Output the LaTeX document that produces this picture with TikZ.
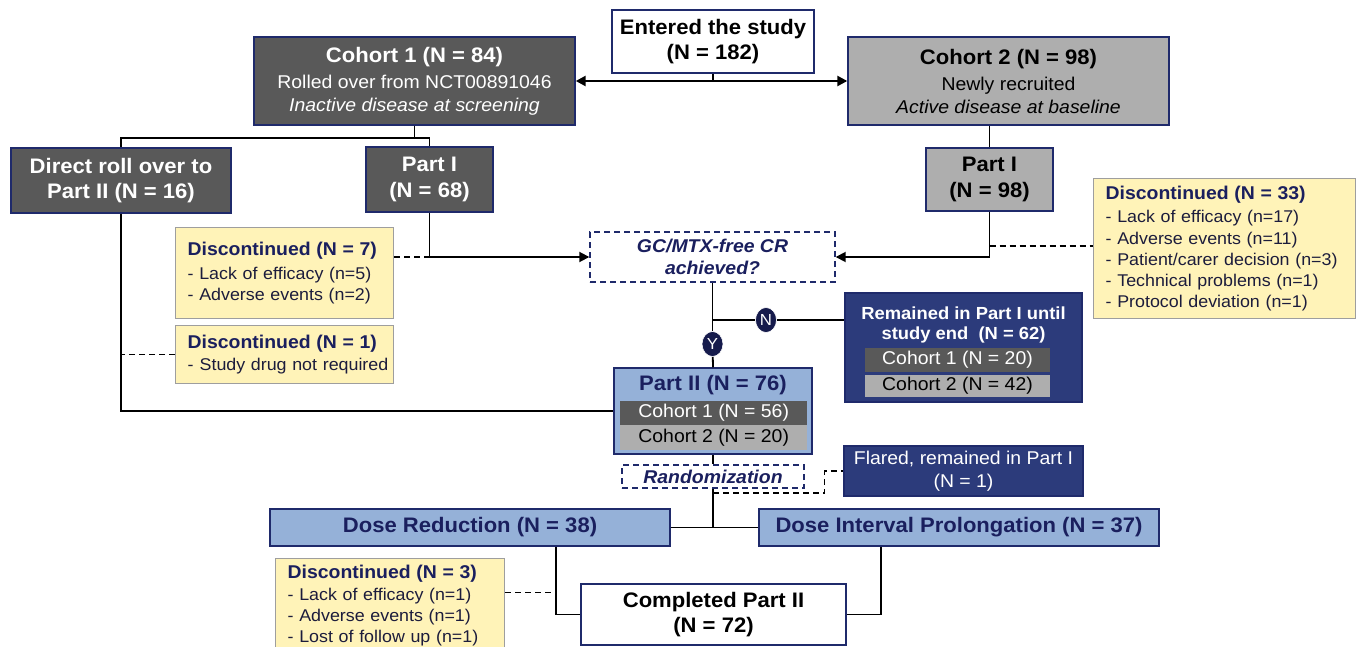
\documentclass[tikz,border=0pt]{standalone}
\usepackage{fontspec}
\setmainfont{Liberation Sans}[FakeStretch=1.05]
\usetikzlibrary{arrows.meta,calc,shapes.geometric}
\definecolor{dgray}{HTML}{595959}
\definecolor{lgray}{HTML}{AEAEAE}
\definecolor{navyb}{HTML}{1F2A6B}
\definecolor{navyf}{HTML}{2C3B7B}
\definecolor{navyt}{HTML}{1A1F5E}
\definecolor{lblue}{HTML}{95B1D8}
\definecolor{ylw}{HTML}{FFF3B8}
\definecolor{ybord}{HTML}{9E9E9E}
\definecolor{itemc}{HTML}{1C1C3C}
\definecolor{circf}{HTML}{161B4C}
\newcommand{\myT}{\bfseries\fontsize{21}{25.5}\selectfont}
\newcommand{\myS}{\fontsize{18.5}{23}\selectfont}
\newcommand{\myD}{\fontsize{17}{21.2}\selectfont}
\newcommand{\myDT}{\bfseries\fontsize{18.5}{21.2}\selectfont}
\begin{document}
\begin{tikzpicture}[x=1pt,y=-1pt,
  box/.style={draw=navyb, line width=1.4pt, inner sep=0pt, align=center},
  ybox/.style={draw=ybord, fill=ylw, line width=1.4pt, inner xsep=12pt, inner ysep=0pt, align=left, anchor=north west, text=itemc, font=\myD},
  bar/.style={inner sep=0pt, minimum height=24pt, font=\myS},
  ln/.style={line width=1.8pt, black},
  arr/.style={line width=1.8pt, black, -{Triangle[length=10pt,width=10pt]}},
  dsh/.style={line width=1.5pt, black, dash pattern=on 6pt off 4pt},
  circ/.style={ellipse, fill=circf, draw=white, line width=0.6pt, minimum width=21pt, minimum height=25pt, inner sep=0pt, text=white, font=\fontsize{16}{16}\selectfont},
]
\useasboundingbox (0,0) rectangle (1356,647);

% main boxes
\node[box, fill=white, minimum width=202, minimum height=63, font=\myT] (entered) at (713,41.5) {Entered the study\\(N = 182)};
\node[box, fill=dgray, text=white, minimum width=321, minimum height=88, font=\myS] (c1) at (414.5,81) {{\myT Cohort 1 (N = 84)}\\[3pt]Rolled over from NCT00891046\\\textit{Inactive disease at screening}};
\node[box, fill=lgray, text=black, minimum width=321, minimum height=88, font=\myS] (c2) at (1008.5,81) {{\myT Cohort 2 (N = 98)}\\[3pt]Newly recruited\hspace*{28pt}\\\textit{Active disease at baseline}};
\node[box, fill=dgray, text=white, minimum width=220, minimum height=65, font=\myT] (direct) at (121,180.5) {Direct roll over to\\Part II (N = 16)};
\node[box, fill=dgray, text=white, minimum width=127, minimum height=65, font=\myT] (p1a) at (429.5,179.5) {Part I\\(N = 68)};
\node[box, fill=lgray, text=black, minimum width=127, minimum height=63, font=\myT] (p1b) at (989.5,179.5) {Part I\\(N = 98)};
\node[box, dash pattern=on 6pt off 4pt, fill=white, text=navyt, minimum width=245, minimum height=50, font=\bfseries\itshape\fontsize{18.5}{22.5}\selectfont] (gc) at (712.5,257) {GC/MTX-free CR\\achieved?};

% discontinued boxes
\node[ybox, text width=194, minimum height=91] (disc7) at (175,227) {{\myDT\color{navyt}Discontinued (N = 7)}\\[3pt]- Lack of efficacy (n=5)\\- Adverse events (n=2)};
\node[ybox, text width=194, minimum height=58] (disc1) at (175,325) {{\myDT\color{navyt}Discontinued (N = 1)}\\[1pt]\mbox{-\hspace{6pt}Study drug not required}};
\node[ybox, text width=238, minimum height=140] (disc33) at (1093,178) {{\myDT\color{navyt}Discontinued (N = 33)}\\[2pt]- Lack of efficacy (n=17)\\- Adverse events (n=11)\\- Patient/carer decision (n=3)\\- Technical problems (n=1)\\- Protocol deviation (n=1)};
\node[ybox, text width=205, minimum height=94] (disc3) at (275,558) {{\myDT\color{navyt}Discontinued (N = 3)}\\[1pt]- Lack of efficacy (n=1)\\- Adverse events (n=1)\\- Lost of follow up (n=1)};

% remained box
\node[box, fill=navyf, minimum width=237, minimum height=109] (rem) at (963.5,347.5) {};
\node[text=white, align=center, inner sep=0pt, font=\bfseries\fontsize{17.5}{20}\selectfont] (remT) at (963.5,325) {Remained in Part I until\\study end~ (N = 62)};
\node[bar, fill=dgray, text=white, minimum width=185] (rb1) at (957.5,360) {Cohort 1 (N = 20)};
\node[bar, fill=lgray, text=black, minimum width=185, minimum height=22] (rb2) at (957.5,386) {Cohort 2 (N = 42)};

% part II
\node[box, fill=lblue, minimum width=198, minimum height=86] (p2) at (713,411) {};
\node[text=navyt, inner sep=0pt, font=\myT] (p2T) at (713,385) {Part II (N = 76)};
\node[bar, fill=dgray, text=white, minimum width=186.5] (pb1) at (713.7,413) {Cohort 1 (N = 56)};
\node[bar, fill=lgray, text=black, minimum width=186.5, minimum height=25] (pb2) at (713.7,437.5) {Cohort 2 (N = 20)};

\node[box, dash pattern=on 6pt off 4pt, fill=white, text=navyt, minimum width=182, minimum height=23, font=\bfseries\itshape\fontsize{18.5}{22}\selectfont] (rand) at (713,476.5) {Randomization};
\node[box, fill=navyf, text=white, minimum width=239, minimum height=50, font=\fontsize{18.5}{23}\selectfont] (flared) at (963.5,471) {Flared, remained in Part I\\(N = 1)};
\node[box, fill=lblue, text=navyt, minimum width=400, minimum height=37, font=\myT] (dosered) at (470,527.5) {Dose Reduction (N = 38)};
\node[box, fill=lblue, text=navyt, minimum width=400, minimum height=37, font=\myT] (doseint) at (959,527.5) {Dose Interval Prolongation (N = 37)};
\node[box, fill=white, text=black, minimum width=265, minimum height=61, font=\myT] (completed) at (713.5,614.5) {Completed Part II\\(N = 72)};

% circles
\node[circ] (N) at (766,320) {N};
\node[circ] (Y) at (712.5,344) {Y};

% connectors
\draw[line width=2.4pt, {Triangle[length=10pt,width=10pt]}-{Triangle[length=10pt,width=10pt]}] (c1.east) -- (c2.west);
\draw[ln] (entered.south) -- (entered.south |- c1.east);
\coordinate (b1) at ($(c1.south)+(0,12)$);
\draw[ln] (c1.south) -- (b1) -| (direct.north);
\draw[ln] (b1) -| (p1a.north);
\draw[ln] (p1b.north |- c2.south) -- (p1b.north);
\draw[arr] (p1a.south) |- (gc.west);
\draw[arr] (p1b.south) |- (gc.east);
\draw[dsh] (disc7.east |- gc.west) -- (p1a.south |- gc.west);
\coordinate (d33) at (1000,246);
\draw[dsh] (p1b.south |- d33) -- (disc33.west |- d33);
\draw[ln] (direct.south) |- (p2.west);
\draw[dsh] (disc1.west) -- (direct.south |- disc1.west);
\draw[ln] (gc.south) -- (Y);
\draw[ln] (Y) -- (p2.north);
\draw[ln] (gc.south |- N) -- (N);
\draw[ln] (N) -- (N -| rem.west);
\draw[ln] (p2.south) -- (rand.north);
\draw[ln] (rand.south) -- (rand.south |- dosered.east);
\draw[ln] (dosered.east) -- (doseint.west);
\coordinate (rd) at ($(rand.south)+(0,4.5)$);
\coordinate (fk) at (824.5,471);
\draw[dsh] (rd) -| (fk) -- (flared.west);
\coordinate (drv) at (555.8,0);
\coordinate (div) at (880.8,0);
\draw[ln] (dosered.south -| drv) |- (completed.west);
\draw[ln] (doseint.south -| div) |- (completed.east);
\coordinate (dy3) at (0,592.3);
\draw[dsh] (disc3.east |- dy3) -- (drv |- dy3);
\end{tikzpicture}
\end{document}
